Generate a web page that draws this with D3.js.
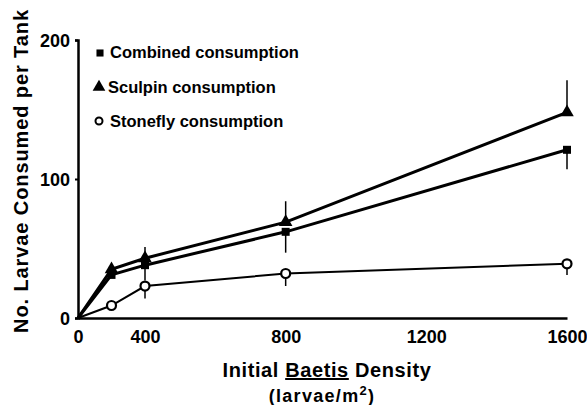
<!DOCTYPE html>
<html>
<head>
<meta charset="utf-8">
<script src="https://cdn.jsdelivr.net/npm/d3@7"></script>
<style>
  body { margin: 0; background: #fff; }
  text { font-family: "Liberation Sans", Arial, Helvetica, sans-serif; font-weight: bold; fill: #000; }
</style>
</head>
<body>
<div id="chart"></div>
<script>
// Data
var density = [0, 200, 400, 800, 1600];
var combined = [0, 31, 38, 62, 121];
var sculpin = [0, 35, 43, 69, 148];
var stonefly = [0, 9, 23, 32, 39];
// one-sided error bars (sculpin drawn up, the other two drawn down)
var combinedErr = [0, 2, 11, 15, 14];
var sculpinErr = [0, 2, 8, 15, 23];
var stoneflyErr = [0, 1, 9, 9, 8];
var xTicks = [0, 400, 800, 1200, 1600];
var yTicks = [0, 100, 200];
var legendLabels = ["Combined consumption", "Sculpin consumption", "Stonefly consumption"];

var width = 587, height = 405;

var svg = d3.select("#chart").append("svg")
  .attr("width", width)
  .attr("height", height);

// the drawn axis squeezes 0-400 relative to the rest
var xScale = d3.scaleLinear().domain([0, 400, 1600]).range([78, 145, 567]);
var yScale = d3.scaleLinear().domain([0, 200]).range([318, 40]);

// axes
var xAxis = d3.axisBottom(xScale).tickValues(xTicks).tickSize(0).tickPadding(10).tickFormat(d3.format("d"));
var yAxis = d3.axisLeft(yScale).tickValues(yTicks).tickSize(3).tickPadding(5);

var gx = svg.append("g").attr("transform", "translate(0,318)").call(xAxis);
var gy = svg.append("g").attr("transform", "translate(78,0)").call(yAxis);
[gx, gy].forEach(function(g) {
  g.select(".domain").attr("stroke", "#000").attr("stroke-width", 2.5);
  g.selectAll("line").attr("stroke", "#000").attr("stroke-width", 2);
  g.selectAll("text").style("font-size", "18px").style("font-family", "Liberation Sans, Arial, sans-serif").style("font-weight", "bold").attr("fill", "#000");
});
gx.selectAll("text").attr("dy", "0.85em");
gy.selectAll("text").attr("dy", "0.35em");

// axis titles
svg.append("text")
  .attr("transform", "translate(28,171) rotate(-90)")
  .attr("text-anchor", "middle")
  .style("font-size", "20px")
  .style("letter-spacing", "0.9px")
  .text("No. Larvae Consumed per Tank");

var xt = svg.append("text")
  .attr("x", 327).attr("y", 377)
  .attr("text-anchor", "middle")
  .style("font-size", "20px")
  .style("letter-spacing", "0.6px");
xt.append("tspan").text("Initial ");
xt.append("tspan").attr("text-decoration", "underline").text("Baetis");
xt.append("tspan").text(" Density");

var xt2 = svg.append("text")
  .attr("x", 322).attr("y", 402)
  .attr("text-anchor", "middle")
  .style("font-size", "18px")
  .style("letter-spacing", "1.3px");
xt2.append("tspan").text("(larvae/m");
xt2.append("tspan").attr("dy", -7).style("font-size", "13px").text("2");
xt2.append("tspan").attr("dy", 7).text(")");

function pts(vals) {
  return density.map(function(d, i) { return [d, vals[i]]; });
}

var line = d3.line()
  .x(function(d) { return xScale(d[0]); })
  .y(function(d) { return yScale(d[1]); });

// error bars
function errBars(vals, errs, dir) {
  svg.append("g").selectAll("line")
    .data(density.slice(1))
    .enter().append("line")
    .attr("x1", function(d) { return xScale(d); })
    .attr("x2", function(d) { return xScale(d); })
    .attr("y1", function(d, i) { return yScale(vals[i + 1]); })
    .attr("y2", function(d, i) { return yScale(vals[i + 1] + dir * errs[i + 1]); })
    .attr("stroke", "#000")
    .attr("stroke-width", 1.5);
}
errBars(sculpin, sculpinErr, 1);
errBars(combined, combinedErr, -1);
errBars(stonefly, stoneflyErr, -1);

// lines
svg.append("path").datum(pts(stonefly)).attr("d", line)
  .attr("fill", "none").attr("stroke", "#000").attr("stroke-width", 2);
svg.append("path").datum(pts(combined)).attr("d", line)
  .attr("fill", "none").attr("stroke", "#000").attr("stroke-width", 3);
svg.append("path").datum(pts(sculpin)).attr("d", line)
  .attr("fill", "none").attr("stroke", "#000").attr("stroke-width", 3);

// markers
var sq = d3.symbol().type(d3.symbolSquare).size(64);
var tri = d3.symbol().type(d3.symbolTriangle).size(80);

svg.append("g").selectAll("path")
  .data(pts(combined).slice(1))
  .enter().append("path")
  .attr("d", sq)
  .attr("transform", function(d) { return "translate(" + xScale(d[0]) + "," + yScale(d[1]) + ")"; })
  .attr("fill", "#000");

svg.append("g").selectAll("path")
  .data(pts(sculpin).slice(1))
  .enter().append("path")
  .attr("d", tri)
  .attr("transform", function(d) { return "translate(" + xScale(d[0]) + "," + yScale(d[1]) + ")"; })
  .attr("fill", "#000");

svg.append("g").selectAll("circle")
  .data(pts(stonefly).slice(1))
  .enter().append("circle")
  .attr("cx", function(d) { return xScale(d[0]); })
  .attr("cy", function(d) { return yScale(d[1]); })
  .attr("r", 4.5)
  .attr("fill", "#fff")
  .attr("stroke", "#000")
  .attr("stroke-width", 2.2);

// legend
var legend = svg.append("g");
legend.append("path").attr("d", d3.symbol().type(d3.symbolSquare).size(50)).attr("transform", "translate(100,53)");
legend.append("path").attr("d", d3.symbol().type(d3.symbolTriangle).size(70)).attr("transform", "translate(99,87)");
legend.append("circle").attr("cx", 99).attr("cy", 121).attr("r", 3.5)
  .attr("fill", "#fff").attr("stroke", "#000").attr("stroke-width", 2);
legend.selectAll("text.lg")
  .data(legendLabels)
  .enter().append("text")
  .attr("class", "lg")
  .attr("x", function(d, i) { return i == 1 ? 108 : 110; })
  .attr("y", function(d, i) { return 58 + i * 34.5; })
  .style("font-size", "16.5px")
  .text(function(d) { return d; });
</script>
</body>
</html>
